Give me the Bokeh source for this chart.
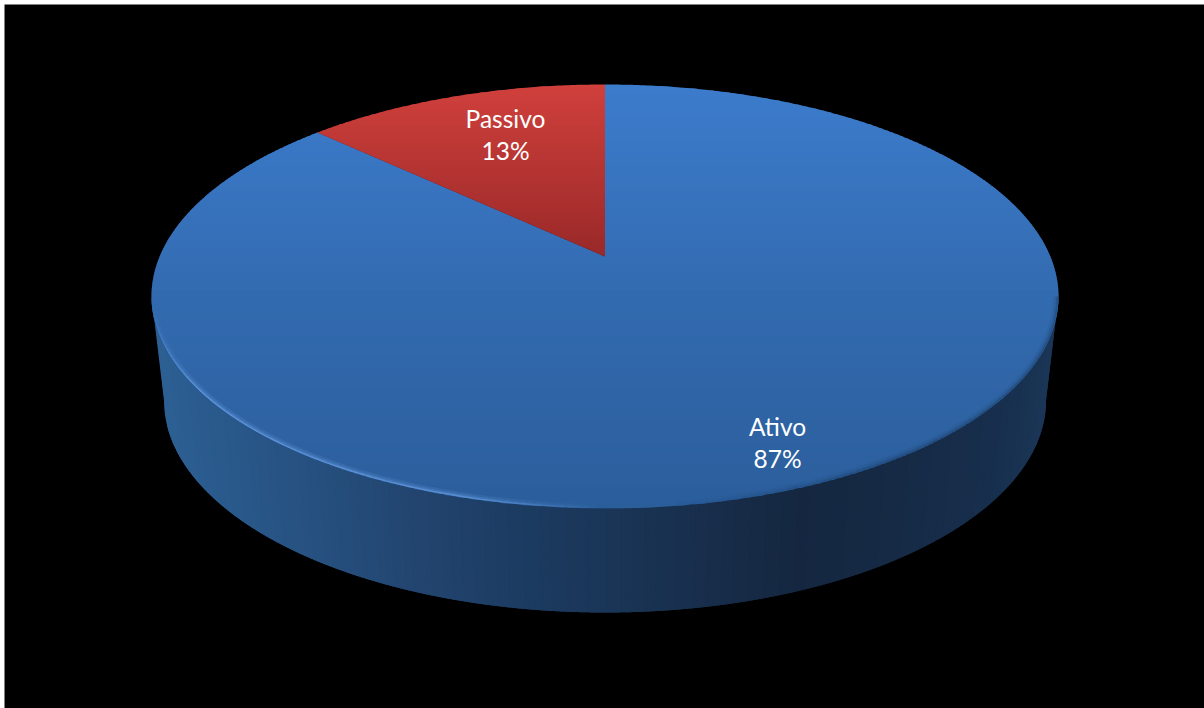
import numpy as np
from bokeh.core.properties import value
from bokeh.embed import file_html
from bokeh.models import Range1d
from bokeh.plotting import figure
from bokeh.resources import INLINE

# Chart values
slice_names = ["Ativo", "Passivo"]
slice_values = [87, 13]
label_x = [777, 505]
label_y = [[426, 458], [118, 150]]

W, H = 1204, 708

# Perspective disc: apex of the slices and projected disc extents
CX = 604.5
APEX_Y = 256.0
FAR_Y, NEAR_Y = 84.0, 508.0
RIM_RX = 453.5
K = ((NEAR_Y - APEX_Y) - (APEX_Y - FAR_Y)) / ((NEAR_Y - APEX_Y) + (APEX_Y - FAR_Y))
B = (APEX_Y - FAR_Y) * (1 + K)
A = RIM_RX * np.sqrt(1 - K ** 2)

# Top rim and base outlines as ellipses
TOP_CY, TOP_RX, TOP_RY = (FAR_Y + NEAR_Y) / 2, RIM_RX, (NEAR_Y - FAR_Y) / 2
BASE_CY, BASE_RX, BASE_RY = 400.0, 441.0, 212.0

# Shading stops
blue_y = [84, 296, 508]
blue_rgb = [(60, 124, 204), (51, 107, 176), (43, 94, 155)]
red_y = [84, 256]
red_rgb = [(208, 64, 60), (153, 41, 41)]
wall_x = [151, 230, 320, 420, 500, 600, 700, 800, 900, 1000, 1058]
wall_rgb = [(45, 96, 148), (41, 88, 138), (38, 79, 126), (34, 68, 110), (29, 61, 100),
            (26, 54, 88), (24, 46, 76), (21, 39, 64), (22, 42, 69), (23, 47, 77), (27, 54, 87)]


def ramp(pos, stops, colors):
    arr = np.array(colors, dtype=float)
    rgb = [np.interp(pos, stops, arr[:, i]) for i in range(3)]
    return "#%02x%02x%02x" % tuple(int(round(c)) for c in rgb)


def project(u, v):
    w = 1 + K * v
    return CX + A * u / w, APEX_Y - B * v / w


def slice_outline(start, span):
    # Angles run clockwise from twelve o'clock, in the plane of the disc
    t = np.radians(np.linspace(start, start + span, max(int(span * 2), 8)))
    x, y = project(np.sin(t), np.cos(t))
    return list(zip([CX] + list(x), [APEX_Y] + list(y)))


def clip_halfplane(poly, y_lim, keep_below):
    out = []
    for i, (x0, y0) in enumerate(poly):
        x1, y1 = poly[(i + 1) % len(poly)]
        in0 = (y0 >= y_lim) if keep_below else (y0 <= y_lim)
        in1 = (y1 >= y_lim) if keep_below else (y1 <= y_lim)
        if in0:
            out.append((x0, y0))
        if in0 != in1:
            f = (y_lim - y0) / (y1 - y0)
            out.append((x0 + f * (x1 - x0), y_lim))
    return out


def wall_strip(t0, t1):
    # Band between the top rim and the base outline, with both curved edges kept
    t = np.linspace(t0, t1, 10)
    xs = np.concatenate([CX + TOP_RX * np.cos(t), CX + BASE_RX * np.cos(t[::-1])])
    ys = np.concatenate([TOP_CY + TOP_RY * np.sin(t), BASE_CY + BASE_RY * np.sin(t[::-1])])
    return list(xs), list(ys)


p = figure(width=W, height=H, output_backend="svg", toolbar_location=None,
           x_range=Range1d(0, W), y_range=Range1d(H, 0), min_border=0,
           background_fill_color="white", border_fill_color="white", outline_line_color=None)
p.axis.visible = False
p.grid.visible = False

# Slide background
p.quad(left=[4], right=[W], top=[4], bottom=[H], fill_color="black", line_color=None)

# Side wall: strips of even screen width, painted left to right with an overlap
cuts = np.arccos(np.linspace(-1, 1, 231))
wx, wy, wc = [], [], []
for i in range(len(cuts) - 1):
    xs, ys = wall_strip(cuts[i], cuts[min(i + 2, len(cuts) - 1)])
    wx.append(xs)
    wy.append(ys)
    wc.append(ramp(CX + TOP_RX * np.cos((cuts[i] + cuts[i + 1]) / 2), wall_x, wall_rgb))
p.patches(wx, wy, fill_color=wc, line_color=None)

# Top face, one set of horizontal bands per slice
fractions = np.array(slice_values, dtype=float) / sum(slice_values)
spans = fractions * 360
starts = np.concatenate([[0], np.cumsum(spans)[:-1]])
shades = [(blue_y, blue_rgb), (red_y, red_rgb)]
band = 2.0
for start, span, (stops, colors) in zip(starts, spans, shades):
    outline = slice_outline(start, span)
    ys = [pt[1] for pt in outline]
    fx, fy, fc = [], [], []
    for y0 in np.arange(min(ys), max(ys), band):
        piece = clip_halfplane(outline, y0, True)
        piece = clip_halfplane(piece, y0 + band + 1, False) if piece else piece
        if len(piece) >= 3:
            fx.append([pt[0] for pt in piece])
            fy.append([pt[1] for pt in piece])
            fc.append(ramp(y0 + band / 2, stops, colors))
    p.patches(fx, fy, fill_color=fc, line_color=None)

# Bevel along the front rim: light on the left, soft and dark on the right
seg = np.radians(np.linspace(0, 180, 181))
for width, inset, strength in [(5.0, 3.0, 0.22), (3.0, 2.0, 0.3), (1.5, 1.2, 0.75)]:
    sx, sy, sc, sa = [], [], [], []
    for t0, t1 in zip(seg[:-1], seg[1:]):
        deg = np.degrees((t0 + t1) / 2)
        sx.append([CX + (TOP_RX - inset) * np.cos(t0), CX + (TOP_RX - inset) * np.cos(t1)])
        sy.append([TOP_CY + (TOP_RY - inset) * np.sin(t0), TOP_CY + (TOP_RY - inset) * np.sin(t1)])
        if deg > 90:
            sc.append("#6fa6ea")
            sa.append(strength * 0.7 * float(np.clip((deg - 90) / 18, 0, 1) * np.clip((178 - deg) / 25, 0, 1)))
        else:
            sc.append("#1b3a60")
            sa.append(strength * 0.45 * float(np.clip((82 - deg) / 30, 0, 1)))
    p.multi_line(sx, sy, line_color=sc, line_alpha=sa, line_width=width)

# Slice labels: name above percentage
for name, val, lx, (y_name, y_pct) in zip(slice_names, slice_values, label_x, label_y):
    p.text([lx, lx], [y_name, y_pct], text=[name, f"{val}%"], text_color="white",
           text_font=value("Lato"), text_font_size="24.5px",
           text_align="center", text_baseline="middle")

open("out.html", "w").write(file_html(p, INLINE))
